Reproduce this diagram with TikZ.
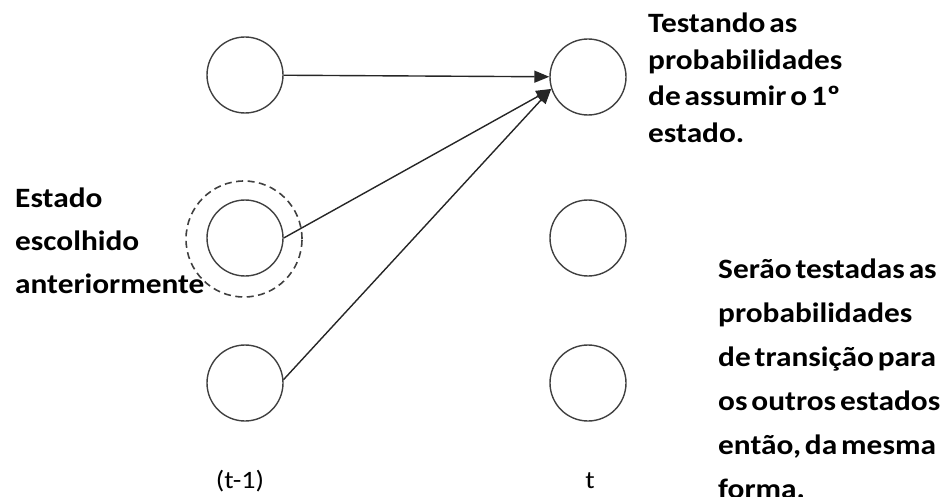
\documentclass[tikz,border=0pt]{standalone}
\usepackage{fontspec}
\setmainfont{Carlito}
\newfontfamily\notefont[FakeStretch=1.12, WordSpace=0.55]{Carlito}
\usetikzlibrary{arrows.meta,positioning}

\begin{document}
\begin{tikzpicture}[x=1pt, y=1pt,
  state/.style={circle, draw=black!75, line width=1.4pt, minimum size=76pt, inner sep=0pt},
  chosen/.style={circle, draw=black!75, line width=1.6pt, dash pattern=on 7pt off 4.5pt, minimum size=116pt, inner sep=0pt},
  trans/.style={-{Triangle[length=15pt,width=12pt]}, line width=1.4pt, black!85},
  note/.style={align=left, inner sep=0pt, anchor=base west},
  tlabel/.style={inner sep=0pt, anchor=base, font=\notefont\fontsize{25}{28}\selectfont}]

\useasboundingbox (0,0) rectangle (949,496);

% states at t-1 and t
\node[state] (a1) at (245,421) {};
\node[state] (a2) at (245,258) {};
\node[state] (a3) at (245,113) {};
\node[state] (b1) at (588,419) {};
\node[state] (b2) at (588,258) {};
\node[state] (b3) at (588,113) {};
\node[chosen] (sel) at (244,257) {};

\draw[trans] (a1) -- (b1);
\draw[trans] (a2.east) -- (b1.198);
\draw[trans] (a3.5) -- (b1.198);

% the base anchor sits on the last line
\node[note, font=\notefont\fontsize{28}{36.5}\selectfont\bfseries] (topnote) at (648,353.5)
  {Testando as\\probabilidades\\de assumir o 1º\\estado.};
\node[note, font=\notefont\fontsize{28}{43}\selectfont\bfseries] (leftnote) at (15,203)
  {Estado\\escolhido\\anteriormente};
\node[note, font=\notefont\fontsize{28}{44}\selectfont\bfseries] (rightnote) at (718,-2)
  {Serão testadas as\\probabilidades\\de transição para\\os outros estados\\então, da mesma\\forma.};

\node[tlabel] (tprev) at (240,8) {(t-1)};
\node[tlabel] (tnow) at (590,8) {t};

\end{tikzpicture}
\end{document}
